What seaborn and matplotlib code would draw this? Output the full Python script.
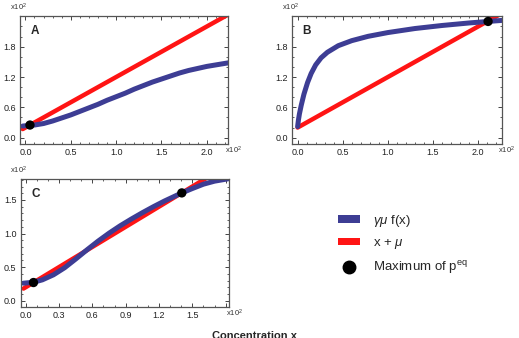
import matplotlib
matplotlib.use('agg')
import pandas as pd
import seaborn as sns
import matplotlib.pyplot as plt
import matplotlib.patches as mpatches
from matplotlib.lines import Line2D
from matplotlib.ticker import MultipleLocator, FuncFormatter

BLUE = "#3d3d94"
RED = "#ff1414"

# panel A
A_BLUE_X = [-3, 5, 10, 20, 30, 40, 50, 60, 70, 80, 90, 100, 110, 120, 130, 140, 150, 160, 170, 180, 190, 200, 210, 223.5]
A_BLUE_Y = [23, 24.5, 25, 28, 33, 39, 45, 52, 59, 66, 74, 81, 88, 96, 103, 110, 116, 122, 128, 133, 137, 141, 144, 148]
A_RED_X = [-3, 223.5]
A_RED_Y = [17, 243.5]
A_DOT_X = [5]
A_DOT_Y = [25]

# panel B
B_BLUE_X = [0, 0.5, 1, 2, 4, 7, 11, 15, 20, 26, 33, 45, 60, 78, 100, 130, 160, 190, 211, 226]
B_BLUE_Y = [22, 29, 36, 47, 64, 86, 109, 127, 144, 158, 169, 182, 192, 200.5, 208, 216, 222, 227, 230, 232]
B_RED_X = [0, 226]
B_RED_Y = [20, 246]
B_DOT_X = [211]
B_DOT_Y = [230]

# panel C
C_BLUE_X = [-2, 7, 15, 25, 35, 45, 55, 65, 75, 85, 95, 105, 115, 125, 140.5, 150, 160, 170, 184]
C_BLUE_Y = [26, 27.4, 31, 38.5, 49, 62, 75.5, 88.5, 100.5, 111.5, 121.5, 131, 140, 148.5, 160.5, 167, 173.5, 178, 182]
C_RED_X = [-2, 184]
C_RED_Y = [18, 204]
C_DOT_X = [7, 140.5]
C_DOT_Y = [27, 160.5]

LABELS = [r"$\gamma\mu$ f(x)", r"x + $\mu$", r"Maximum of p$^{\mathrm{eq}}$"]

sns.set_style("ticks")
plt.rcParams['font.family'] = ['Liberation Sans', 'DejaVu Sans']
plt.rcParams['mathtext.fontset'] = 'custom'
plt.rcParams['mathtext.rm'] = 'Liberation Sans'
plt.rcParams['mathtext.it'] = 'Liberation Sans:italic'

fig = plt.figure(figsize=(5.19, 3.38), dpi=100)

panels = [
    ("A", [0.0385, 0.574, 0.401, 0.379], A_BLUE_X, A_BLUE_Y, A_RED_X, A_RED_Y, A_DOT_X, A_DOT_Y,
     (-6, 223.5), (-12.5, 241), 50, 10, 60, 20, 200, 180),
    ("B", [0.563, 0.574, 0.4035, 0.379], B_BLUE_X, B_BLUE_Y, B_RED_X, B_RED_Y, B_DOT_X, B_DOT_Y,
     (-6, 226), (-12.5, 241), 50, 10, 60, 20, 200, 180),
    ("C", [0.0399, 0.0926, 0.402, 0.378], C_BLUE_X, C_BLUE_Y, C_RED_X, C_RED_Y, C_DOT_X, C_DOT_Y,
     (-4.5, 183.3), (-9, 181.3), 30, 10, 50, 10, 150, 150),
]


def make_fmt(top):
    return FuncFormatter(lambda v, p: "%.1f" % (v / 100.0) if v <= top + 1e-6 else "")


for name, rect, bx, by, rx, ry, dx, dy, xlim, ylim, xmaj, xmin, ymaj, ymin, xtop, ytop in panels:
    ax = fig.add_axes(rect)
    sns.lineplot(x=rx, y=ry, ax=ax, color=RED, lw=3.2, estimator=None, sort=False)
    sns.lineplot(x=bx, y=by, ax=ax, color=BLUE, lw=3.6, estimator=None, sort=False)
    sns.scatterplot(x=dx, y=dy, ax=ax, color="black", s=45, edgecolor="none", zorder=5)
    ax.set_xlim(*xlim)
    ax.set_ylim(*ylim)
    ax.xaxis.set_major_locator(MultipleLocator(xmaj))
    ax.xaxis.set_minor_locator(MultipleLocator(xmin))
    ax.yaxis.set_major_locator(MultipleLocator(ymaj))
    ax.yaxis.set_minor_locator(MultipleLocator(ymin))
    ax.xaxis.set_major_formatter(make_fmt(xtop))
    ax.yaxis.set_major_formatter(make_fmt(ytop))
    ax.tick_params(which='both', direction='in', top=True, right=True, labelsize=6.5,
                   color="#444444", labelcolor="#222222", pad=3)
    ax.tick_params(which='major', length=3, width=0.7)
    ax.tick_params(which='minor', length=1.5, width=0.6)
    for s in ax.spines.values():
        s.set_color("#555555")
        s.set_linewidth(0.9)
    ax.set_xlabel("")
    ax.set_ylabel("")
    ax.text(0.05, 0.93, name, transform=ax.transAxes, va='top', ha='left',
            fontsize=8.5, fontweight='bold')
    ax.text(0.985, -0.005, r"x10$^2$", transform=ax.transAxes, va='top', ha='left',
            fontsize=5.5, color="#333333")
    ax.text(-0.05, 1.02, r"x10$^2$", transform=ax.transAxes, va='bottom', ha='left',
            fontsize=5.5, color="#333333")

handles = [mpatches.Patch(facecolor=BLUE, edgecolor='none'),
           mpatches.Patch(facecolor=RED, edgecolor='none'),
           Line2D([], [], marker='o', color='black', linestyle='', markersize=9)]
fig.legend(handles, LABELS, loc='upper left', bbox_to_anchor=(338 / 519, 1 - 213 / 338),
           frameon=False, fontsize=9.5, handlelength=1.67, handleheight=0.55,
           handletextpad=1.0, labelspacing=0.62, borderpad=0, borderaxespad=0)

fig.text(0.49, 1 - 331 / 338, "Concentration x", ha='center', va='top',
         fontsize=8, fontweight='bold')

fig.savefig("out.png", dpi=100)
